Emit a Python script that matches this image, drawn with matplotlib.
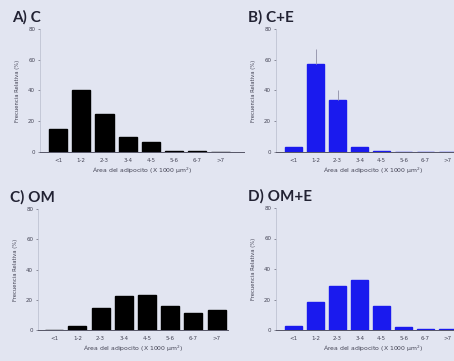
import matplotlib.pyplot as plt

categories = ['<1', '1-2', '2-3', '3-4', '4-5', '5-6', '6-7', '>7']

c_vals = [15, 40, 25, 9.5, 6.5, 0.5, 0.5, 0]
ce_vals = [3, 57, 34, 3.5, 0.4, 0.2, 0.1, 0]
ce_err = [0, 10, 6, 0, 0, 0, 0, 0]
om_vals = [0, 2.8, 14.3, 22.7, 23, 15.9, 11, 13.2]
ome_vals = [2.5, 18.3, 28.7, 33, 16, 2, 0.5, 0.5]

titles = ['A) C', 'B) C+E', 'C) OM', 'D) OM+E']
ylabel = 'Frecuencia Relativa (%)'
xlabel = 'Área del adipocito (X 1000 µm$^2$)'

bg = '#e2e5f1'
W, H = 454, 361

fig = plt.figure(figsize=(4.54, 3.61), dpi=100, facecolor=bg)

# (left px, zero-line px, top px, xmin, xmax, px per category) for each panel
panels = [
    (40, 152, 29, -0.78, 8.0, 23.2),
    (276, 152, 29, -0.8, 8.0, 22.0),
    (38, 330, 209, -0.7, 7.5, 23.2),
    (276, 330, 208, -0.8, 8.0, 22.0),
]
data = [(c_vals, 'black', None), (ce_vals, '#1a1aee', ce_err),
        (om_vals, 'black', None), (ome_vals, '#1a1aee', None)]

for (lx, zy, ty, x0, x1, step), (vals, col, err), title in zip(panels, data, titles):
    width_px = (x1 - x0) * step
    ax = fig.add_axes([lx / W, 1 - zy / H, width_px / W, (zy - ty) / H])
    ax.set_facecolor(bg)
    x = range(len(categories))
    ax.bar(x, vals, width=0.78, color=col, edgecolor=col)
    if err is not None:
        ax.errorbar(x, vals, yerr=[[0] * len(err), err], fmt='none',
                    ecolor='#9a9ab0', elinewidth=0.7, capsize=0)
    ax.set_xlim(x0, x1)
    ax.set_ylim(0, 80)
    ax.set_yticks([0, 20, 40, 60, 80])
    ax.set_xticks(list(x))
    ax.set_xticklabels(categories)
    ax.tick_params(axis='both', labelsize=4, length=1.5, width=0.4,
                   colors='#444455', pad=2)
    ax.tick_params(axis='x', length=0, pad=4)
    for s in ['top', 'right']:
        ax.spines[s].set_visible(False)
    ax.spines['left'].set_color('#b8bccc')
    ax.spines['left'].set_linewidth(0.5)
    ax.spines['bottom'].set_color('#555566')
    ax.spines['bottom'].set_linewidth(0.7)
    ax.set_ylabel(ylabel, fontsize=3.8, color='#444455', labelpad=6)
    ax.set_xlabel(xlabel, fontsize=4.4, color='#444455', labelpad=2)
    fig.text((lx - 28) / W, 1 - (ty - 12) / H, title, fontsize=11,
             fontweight='bold', family=['Lato', 'DejaVu Sans'],
             color='#222233', ha='left', va='center')

fig.savefig('out.png', dpi=100, facecolor=bg)
